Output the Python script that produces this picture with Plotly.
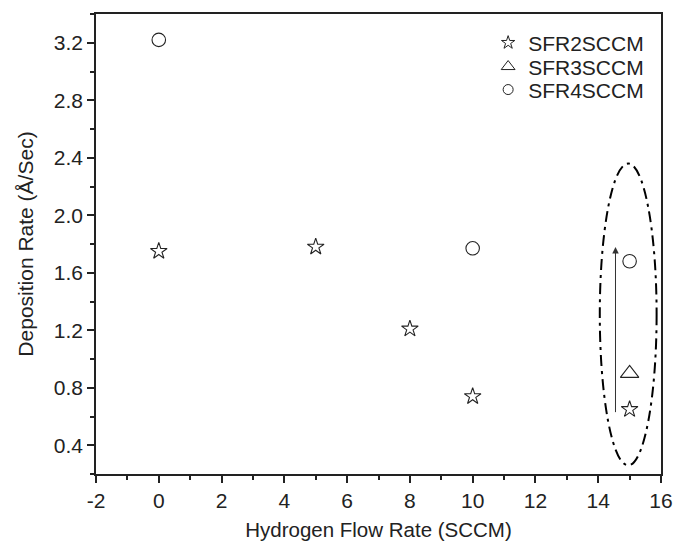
import plotly.graph_objects as go

# Data
sfr2_x = [0, 5, 8, 10, 15]
sfr2_y = [1.75, 1.78, 1.21, 0.74, 0.65]
sfr3_x = [15]
sfr3_y = [0.90]
sfr4_x = [0, 10, 15]
sfr4_y = [3.22, 1.77, 1.68]

x_ticks = [-2, 0, 2, 4, 6, 8, 10, 12, 14, 16]
y_ticks = [0.4, 0.8, 1.2, 1.6, 2.0, 2.4, 2.8, 3.2]

FONT = "Liberation Sans, Arial, sans-serif"
INK = "#222222"

series = [
    ("SFR2SCCM", sfr2_x, sfr2_y, "star-open", 12.5, 10, "legend", 0.937),
    ("SFR3SCCM", sfr3_x, sfr3_y, "triangle-up-open", 16, 12, "legend2", 0.885),
    ("SFR4SCCM", sfr4_x, sfr4_y, "circle-open", 13.5, 10, "legend3", 0.835),
]

fig = go.Figure()
for name, xs, ys, sym, size, lsize, lg, ly in series:
    fig.add_trace(go.Scatter(x=xs, y=ys, mode="markers", name=name, showlegend=False,
                             marker=dict(symbol=sym, size=size, color=INK, line=dict(width=1.1, color=INK))))
legend_layouts = {}
for name, xs, ys, sym, size, lsize, lg, ly in series:
    fig.add_trace(go.Scatter(x=[None], y=[None], mode="markers", name=name, showlegend=True, legend=lg,
                             marker=dict(symbol=sym, size=lsize, color=INK, line=dict(width=1, color=INK))))
    legend_layouts[lg] = dict(x=0.979, y=ly, xanchor="right", yanchor="middle", bgcolor="rgba(0,0,0,0)",
                              font=dict(family=FONT, size=21, color=INK), itemwidth=30)

# dash-dot ellipse around x=15 points
fig.add_shape(type="circle", xref="x", yref="y", x0=14.05, x1=15.86, y0=0.26, y1=2.36,
              line=dict(color="black", width=2, dash="11px,5px,3px,5px"))

# arrow
fig.add_annotation(x=14.55, y=1.78, ax=14.55, ay=0.62, xref="x", yref="y", axref="x", ayref="y",
                   text="", showarrow=True, arrowhead=2, arrowsize=1.3, arrowwidth=1, arrowcolor="#333333")

axis_common = dict(showline=True, linecolor=INK, linewidth=1.5, mirror=True, showgrid=False,
                   zeroline=False, ticks="outside", tickcolor=INK, tickwidth=1.5, ticklen=7,
                   tickfont=dict(family=FONT, size=21, color=INK))

fig.update_xaxes(range=[-2, 16], tickvals=x_ticks, ticktext=[str(v) for v in x_ticks],
                 minor=dict(ticks="outside", dtick=1, ticklen=4, tickcolor=INK, tickwidth=1.5),
                 title=dict(text="Hydrogen Flow Rate (SCCM)", font=dict(family=FONT, size=20.5, color=INK), standoff=12),
                 **axis_common)
fig.update_yaxes(range=[0.2, 3.4], tickvals=y_ticks, ticktext=[f"{v:.1f}" for v in y_ticks],
                 minor=dict(ticks="outside", dtick=0.2, tick0=0.2, ticklen=4, tickcolor=INK, tickwidth=1.5),
                 title=dict(text="Deposition Rate (Å/Sec)", font=dict(family=FONT, size=21, color=INK), standoff=14),
                 **axis_common)

fig.update_layout(width=689, height=543, margin=dict(l=96, r=28, t=14, b=69, autoexpand=False),
                  plot_bgcolor="white", paper_bgcolor="white",
                  font=dict(family=FONT, color=INK),
                  showlegend=True, **legend_layouts)

fig.write_html("out.html", config={"displayModeBar": False},
               post_script="document.body.style.margin='0';")
